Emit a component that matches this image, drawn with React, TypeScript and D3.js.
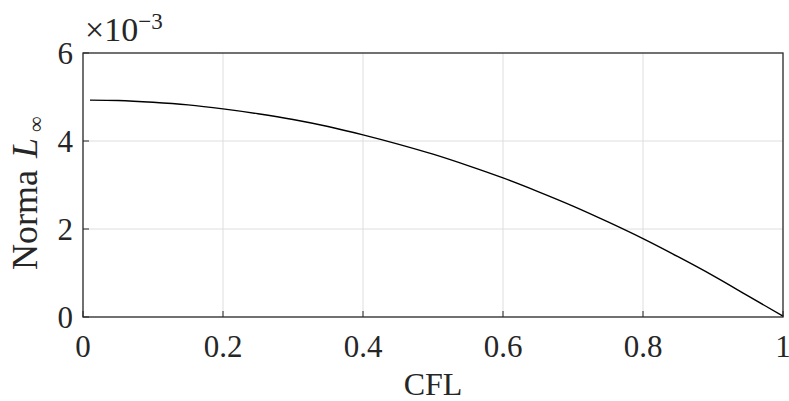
import * as d3 from "d3";
import { useEffect, useRef } from "react";

// CFL values along x and the L-infinity norm
const cfl = [0.01, 0.05, 0.1, 0.15, 0.2, 0.25, 0.3, 0.35, 0.4, 0.45, 0.5, 0.55, 0.6, 0.65, 0.7, 0.75, 0.8, 0.85, 0.9, 0.95, 1.0];
const normInf = [4.93e-3, 4.92e-3, 4.88e-3, 4.82e-3, 4.73e-3, 4.62e-3, 4.49e-3, 4.33e-3, 4.14e-3, 3.93e-3, 3.7e-3, 3.44e-3, 3.16e-3, 2.85e-3, 2.52e-3, 2.16e-3, 1.78e-3, 1.37e-3, 0.94e-3, 0.48e-3, 0.02e-3];
const xTicks = [0, 0.2, 0.4, 0.6, 0.8, 1];
const yTicks = [0, 0.002, 0.004, 0.006];

function App() {
    const ref = useRef(null);

    useEffect(() => {
        const width = 789;
        const height = 401;
        const margin = { top: 53, right: 6, bottom: 84, left: 83 };
        const font = "'Liberation Serif', 'Times New Roman', serif";
        const axisColor = "#262626";

        const svg = d3.select(ref.current);
        svg.selectAll("*").remove();
        svg.attr("width", width).attr("height", height);

        const x = d3.scaleLinear().domain([0, 1]).range([margin.left, width - margin.right]);
        const y = d3.scaleLinear().domain([0, 0.006]).range([height - margin.bottom, margin.top]);

        // grid
        svg.append("g")
            .selectAll("line")
            .data(xTicks.slice(1, -1))
            .enter()
            .append("line")
            .attr("x1", (d) => x(d))
            .attr("x2", (d) => x(d))
            .attr("y1", y(0))
            .attr("y2", y(0.006))
            .attr("stroke", "#dedede")
            .attr("stroke-width", 1);
        svg.append("g")
            .selectAll("line")
            .data(yTicks.slice(1, -1))
            .enter()
            .append("line")
            .attr("x1", x(0))
            .attr("x2", x(1))
            .attr("y1", (d) => y(d))
            .attr("y2", (d) => y(d))
            .attr("stroke", "#dedede")
            .attr("stroke-width", 1);

        // tick marks (inside)
        const tickLen = 6;
        svg.append("g")
            .selectAll("line")
            .data(xTicks)
            .enter()
            .append("line")
            .attr("x1", (d) => x(d))
            .attr("x2", (d) => x(d))
            .attr("y1", y(0))
            .attr("y2", y(0) - tickLen)
            .attr("stroke", axisColor)
            .attr("stroke-width", 1);
        svg.append("g")
            .selectAll("line")
            .data(yTicks)
            .enter()
            .append("line")
            .attr("x1", x(0))
            .attr("x2", x(0) + tickLen)
            .attr("y1", (d) => y(d))
            .attr("y2", (d) => y(d))
            .attr("stroke", axisColor)
            .attr("stroke-width", 1);

        // curve
        const line = d3
            .line()
            .x((d) => x(d[0]))
            .y((d) => y(d[1]))
            .curve(d3.curveMonotoneX);
        svg.append("path")
            .datum(cfl.map((c, i) => [c, normInf[i]]))
            .attr("fill", "none")
            .attr("stroke", "#000")
            .attr("stroke-width", 1.4)
            .attr("d", line);

        // box
        svg.append("rect")
            .attr("x", x(0))
            .attr("y", y(0.006))
            .attr("width", x(1) - x(0))
            .attr("height", y(0) - y(0.006))
            .attr("fill", "none")
            .attr("stroke", axisColor)
            .attr("stroke-width", 1.3);

        // tick labels
        svg.append("g")
            .selectAll("text")
            .data(xTicks)
            .enter()
            .append("text")
            .attr("x", (d) => x(d))
            .attr("y", 357)
            .attr("text-anchor", "middle")
            .style("font-family", font)
            .style("font-size", "31px")
            .attr("fill", axisColor)
            .text((d) => d3.format("~g")(d));

        svg.append("g")
            .selectAll("text")
            .data(yTicks)
            .enter()
            .append("text")
            .attr("x", 73)
            .attr("y", (d) => y(d))
            .attr("dy", "0.35em")
            .attr("text-anchor", "end")
            .style("font-family", font)
            .style("font-size", "31px")
            .attr("fill", axisColor)
            .text((d) => d3.format("~g")(d * 1000));

        // exponent
        const exp = svg.append("text")
            .attr("x", 85)
            .attr("y", 41)
            .style("font-family", font)
            .style("font-size", "34px")
            .attr("fill", axisColor);
        exp.append("tspan").text("×10");
        exp.append("tspan")
            .attr("dy", -12)
            .style("font-size", "23px")
            .text("−3");

        // axis labels
        svg.append("text")
            .attr("x", (x(0) + x(1)) / 2)
            .attr("y", 395)
            .attr("text-anchor", "middle")
            .style("font-family", font)
            .style("font-size", "32px")
            .attr("fill", axisColor)
            .text("CFL");

        const yl = svg.append("text")
            .attr("transform", "translate(37,270) rotate(-90)")
            .attr("text-anchor", "start")
            .style("font-family", font)
            .style("font-size", "36px")
            .attr("fill", axisColor);
        yl.append("tspan").text("Norma ");
        yl.append("tspan").attr("dx", 3).style("font-style", "italic").text("L");
        yl.append("tspan")
            .attr("dx", 6)
            .attr("dy", 6)
            .style("font-size", "22px")
            .text("∞");
    }, []);

    return (
        <svg ref={ref} style={{ position: "absolute", left: 0, top: 0, display: "block" }}></svg>
    );
}

export default App;
